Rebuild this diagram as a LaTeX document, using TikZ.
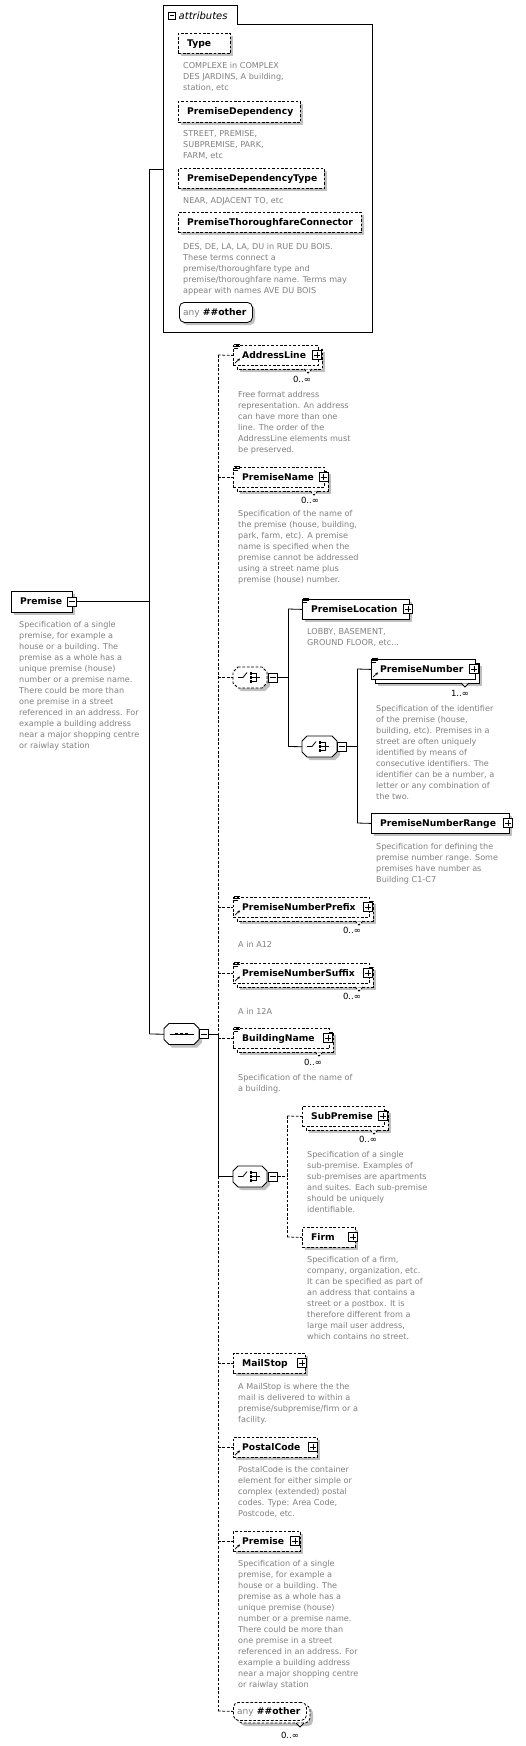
\documentclass[tikz,border=0pt]{standalone}
\usepackage{fontspec}
\setmainfont{DejaVu Sans}
\usetikzlibrary{arrows.meta}
\definecolor{descgray}{RGB}{128,128,128}
\definecolor{shadowgray}{RGB}{192,192,192}
\newcommand\XnameFont{\fontsize{9.2}{11}\selectfont\bfseries}
\newcommand\XdescFont{\fontsize{8.1}{11}\selectfont}
\newcommand\XmultFont{\fontsize{8.5}{10}\selectfont}
\tikzset{
 solidb/.style={draw=black, fill=white, line width=0.8pt},
 dashb/.style={draw=black, fill=white, line width=0.8pt, dash pattern=on 2.7pt off 1.7pt},
 nametext/.style={font=\XnameFont, inner sep=0pt, anchor=base west},
 desctext/.style={font=\XdescFont, text=descgray, inner sep=0pt, anchor=north west, align=left},
 multtext/.style={font=\XmultFont, inner sep=0pt, anchor=base},
 conn/.style={line width=0.8pt},
 dconn/.style={line width=0.8pt, dash pattern=on 2.7pt off 1.7pt},
 pmbox/.style={draw=black, fill=white, line width=0.7pt, minimum size=9pt, inner sep=0pt},
}
% shadow of a single box
\newcommand\XsdShadow[4]{\fill[shadowgray] ({#1+3},{#2+3}) rectangle ({#3+3},{#4+3});}
% back box of a repeated element, with its shadow and notch
\newcommand\XsdBack[5]{%
 \fill[shadowgray] ({#1+7},{#2+7}) rectangle ({#3+7},{#4+7});
 \draw[#5] ({#1+4},{#2+4}) rectangle ({#3+4},{#4+4});
 \fill[white] ({#3-14},{#4+4.4}) -- ({#3-10},{#4+8}) -- ({#3-6},{#4+4.4}) -- cycle;
 \draw[#5,fill=none] ({#3-14},{#4+4}) -- ({#3-10},{#4+8}) -- ({#3-6},{#4+4});}
% element box: name, x1, y1, x2, y2, style, text
\newcommand\XsdEl[7]{%
 \node[#6, inner sep=0pt, anchor=north west, minimum width={(#4-#2)*1pt}, minimum height={(#5-#3)*1pt}] (#1) at (#2,#3) {};
 \node[nametext] (#1-t) at ({#2+9},{(#3+#5)/2+3.4}) {#7};}
\newcommand\XsdPlus[3]{%
 \node[pmbox] (#1) at (#2,#3) {};
 \draw[line width=0.7pt] ({#2-3},#3) -- ({#2+3},#3) (#2,{#3-3}) -- (#2,{#3+3});}
\newcommand\XsdMinus[3]{%
 \node[pmbox] (#1) at (#2,#3) {};
 \draw[line width=0.7pt] ({#2-3},#3) -- ({#2+3},#3);}
\newcommand\XsdLines[2]{%
 \draw[line width=0.6pt] ({#1+1},{#2-1}) -- ({#1+7},{#2-1}) ({#1+1},{#2+1}) -- ({#1+7},{#2+1}) ({#1+1},{#2+3}) -- ({#1+5},{#2+3});}
\newcommand\XsdArrow[2]{%
 \draw[line width=0.7pt, -{Stealth[length=2.8pt,width=2.8pt]}] ({#1+2},{#2-2}) -- ({#1+7},{#2-6.5});}
% octagon (sequence / choice): name, x1, y1, x2, y2, style
\newcommand\XsdOct[6]{%
 \fill[shadowgray] ({#2+8},{#3+3}) -- ({#4-2},{#3+3}) -- ({#4+3},{#3+8}) -- ({#4+3},{#5-2}) -- ({#4-2},{#5+3}) -- ({#2+8},{#5+3}) -- ({#2+3},{#5-2}) -- ({#2+3},{#3+8}) -- cycle;
 \draw[#6] ({#2+5},#3) -- ({#4-5},#3) -- (#4,{#3+5}) -- (#4,{#5-5}) -- ({#4-5},#5) -- ({#2+5},#5) -- (#2,{#5-5}) -- (#2,{#3+5}) -- cycle;
 \node[inner sep=0pt, anchor=north west, minimum width={(#4-#2)*1pt}, minimum height={(#5-#3)*1pt}] (#1) at (#2,#3) {};}
\newcommand\XsdSeqIcon[2]{%
 \draw[line width=0.8pt] ({#1-12},#2) -- ({#1+12},#2);
 \foreach \dd in {-5,0,5} {\fill ({#1+\dd-1.4},{#2-1.4}) rectangle ({#1+\dd+1.4},{#2+1.4});}}
\newcommand\XsdChoiceIcon[2]{%
 \draw[line width=0.8pt] ({#1+5},#2) -- ({#1+10},#2) -- ({#1+14},{#2-5});
 \foreach \dd in {-4,0,4} {\fill ({#1+16.6},{#2+\dd-1.3}) rectangle ({#1+19.2},{#2+\dd+1.3});}
 \draw[line width=0.7pt] ({#1+19},{#2-4}) -- ({#1+23},{#2-4}) -- ({#1+23},{#2+4}) -- ({#1+19},{#2+4}) ({#1+19},#2) -- ({#1+27},#2);}
\newcommand\XsdDesc[4]{\node[desctext] (#1) at (#2,{#3-8}) {\rule{0pt}{8pt}#4};}

\begin{document}
\begin{tikzpicture}[x=1pt, y=-1pt]
\fill[white] (0,0) rectangle (526,1746);
\useasboundingbox (0,0) rectangle (526,1746);

% ---------------- attributes
\draw[solidb] (163,5) -- (237,5) -- (237,24) -- (372,24) -- (372,332) -- (163,332) -- cycle;
\node[inner sep=0pt, anchor=north west, minimum width=209pt, minimum height=327pt] (attrs) at (163,5) {};
\node[draw, line width=0.6pt, minimum size=7pt, inner sep=0pt] (attrm) at (172,15.5) {};
\draw[line width=0.6pt] (170,15.5) -- (174,15.5);
\node[font=\fontsize{10}{12}\selectfont\itshape, inner sep=0pt, anchor=base west] (attrt) at (178.5,19.5) {attributes};

\XsdShadow{178}{33}{230}{53}
\XsdEl{aType}{178}{33}{230}{53}{dashb}{Type}
\XsdDesc{dType}{183}{68}{COMPLEXE in COMPLEX\\DES JARDINS, A building,\\station, etc}

\XsdShadow{178}{101}{300}{122}
\XsdEl{aPD}{178}{101}{300}{122}{dashb}{PremiseDependency}
\XsdDesc{dPD}{183}{136}{STREET, PREMISE,\\SUBPREMISE, PARK,\\FARM, etc}

\XsdShadow{178}{168}{324}{188}
\XsdEl{aPDT}{178}{168}{324}{188}{dashb}{PremiseDependencyType}
\XsdDesc{dPDT}{183}{203}{NEAR, ADJACENT TO, etc}

\XsdShadow{178}{212}{361}{232}
\XsdEl{aPTC}{178}{212}{361}{232}{dashb}{PremiseThoroughfareConnector}
\XsdDesc{dPTC}{183}{249}{DES, DE, LA, LA, DU in RUE DU BOIS.\\These terms connect a\\premise/thoroughfare type and\\premise/thoroughfare name. Terms may\\appear with names AVE DU BOIS}

\fill[shadowgray, rounded corners=5pt] (182,305) rectangle (255,325);
\node[solidb, rounded corners=5pt, inner sep=0pt, anchor=north west, minimum width=73pt, minimum height=20pt] (aAny) at (179,302) {};
\node[inner sep=0pt, anchor=base west] (aAny-t) at (183,315.5) {{\fontsize{9}{11}\selectfont\color{descgray}any} {\XnameFont\#\#other}};

% ---------------- root element
\XsdShadow{11}{591}{72}{612}
\XsdEl{main}{11}{591}{72}{612}{solidb}{Premise}
\XsdMinus{mainm}{72}{601.5}
\XsdDesc{dMain}{19}{627}{Specification of a single\\premise, for example a\\house or a building. The\\premise as a whole has a\\unique premise (house)\\number or a premise name.\\There could be more than\\one premise in a street\\referenced in an address. For\\example a building address\\near a major shopping centre\\or raiwlay station}

% ---------------- sequence
\XsdOct{seq}{164}{1023.5}{199}{1044.5}{solidb}
\XsdSeqIcon{181.5}{1034}
\XsdMinus{seqm}{204}{1034}

% AddressLine
\XsdBack{233}{345}{318}{365}{dashb}
\XsdEl{addr}{233}{345}{318}{365}{dashb}{AddressLine}
\XsdLines{233}{345}\XsdArrow{233}{365}
\XsdPlus{addr-p}{317}{355}
\node[multtext] (addr-m) at (302,382) {0..∞};
\XsdDesc{dAddr}{238}{397}{Free format address\\representation. An address\\can have more than one\\line. The order of the\\AddressLine elements must\\be preserved.}

% PremiseName
\XsdBack{233}{467}{324}{487}{dashb}
\XsdEl{pname}{233}{467}{324}{487}{dashb}{PremiseName}
\XsdLines{233}{467}
\XsdPlus{pname-p}{323.5}{477}
\node[multtext] (pname-m) at (310,503) {0..∞};
\XsdDesc{dPname}{238}{516}{Specification of the name of\\the premise (house, building,\\park, farm, etc). A premise\\name is specified when the\\premise cannot be addressed\\using a street name plus\\premise (house) number.}

% choice 1
\XsdOct{ch1}{233}{667}{267}{688}{dashb}
\XsdChoiceIcon{233}{677.5}
\XsdMinus{ch1m}{273}{677.5}

\XsdShadow{302}{599}{409}{619}
\XsdEl{ploc}{302}{599}{409}{619}{solidb}{PremiseLocation}
\XsdLines{302}{599}
\XsdPlus{ploc-p}{408}{609}
\XsdDesc{dPloc}{307}{634}{LOBBY, BASEMENT,\\GROUND FLOOR, etc...}

% choice 2
\XsdOct{ch2}{302}{736}{337}{757}{solidb}
\XsdChoiceIcon{302}{746.5}
\XsdMinus{ch2m}{342}{746.5}

\XsdBack{371}{659}{475}{679}{solidb}
\XsdEl{pnum}{371}{659}{475}{679}{solidb}{PremiseNumber}
\XsdLines{371}{659}\XsdArrow{371}{679}
\XsdPlus{pnum-p}{474}{669}
\node[multtext] (pnum-m) at (460,696) {1..∞};
\XsdDesc{dPnum}{376}{711}{Specification of the identifier\\of the premise (house,\\building, etc). Premises in a\\street are often uniquely\\identified by means of\\consecutive identifiers. The\\identifier can be a number, a\\letter or any combination of\\the two.}

\XsdShadow{371}{813}{509}{833}
\XsdEl{prange}{371}{813}{509}{833}{solidb}{PremiseNumberRange}
\XsdPlus{prange-p}{508}{823}
\XsdDesc{dPrange}{376}{849}{Specification for defining the\\premise number range. Some\\premises have number as\\Building C1-C7}

% PremiseNumberPrefix
\XsdBack{233}{897}{369}{917}{dashb}
\XsdEl{ppre}{233}{897}{369}{917}{dashb}{PremiseNumberPrefix}
\XsdLines{233}{897}\XsdArrow{233}{917}
\XsdPlus{ppre-p}{368}{907}
\node[multtext] (ppre-m) at (352,933) {0..∞};
\XsdDesc{dPpre}{238}{947}{A in A12}

% PremiseNumberSuffix
\XsdBack{233}{963}{369}{983}{dashb}
\XsdEl{psuf}{233}{963}{369}{983}{dashb}{PremiseNumberSuffix}
\XsdLines{233}{963}\XsdArrow{233}{983}
\XsdPlus{psuf-p}{368}{973}
\node[multtext] (psuf-m) at (352,999) {0..∞};
\XsdDesc{dPsuf}{238}{1014}{A in 12A}

% BuildingName
\XsdBack{233}{1028}{329}{1048}{dashb}
\XsdEl{bname}{233}{1028}{329}{1048}{dashb}{BuildingName}
\XsdLines{233}{1028}
\XsdPlus{bname-p}{328}{1038}
\node[multtext] (bname-m) at (313,1065) {0..∞};
\XsdDesc{dBname}{238}{1080}{Specification of the name of\\a building.}

% choice 3
\XsdOct{ch3}{233}{1166}{267}{1187}{solidb}
\XsdChoiceIcon{233}{1176.5}
\XsdMinus{ch3m}{273}{1176.5}

\XsdBack{302}{1106}{384}{1126}{dashb}
\XsdEl{subp}{302}{1106}{384}{1126}{dashb}{SubPremise}
\XsdPlus{subp-p}{383}{1116}
\node[multtext] (subp-m) at (368,1142) {0..∞};
\XsdDesc{dSubp}{307}{1157}{Specification of a single\\sub-premise. Examples of\\sub-premises are apartments\\and suites. Each sub-premise\\should be uniquely\\identifiable.}

\XsdShadow{302}{1227}{355}{1247}
\XsdEl{firm}{302}{1227}{355}{1247}{dashb}{Firm}
\XsdPlus{firm-p}{353}{1237}
\XsdDesc{dFirm}{307}{1262}{Specification of a firm,\\company, organization, etc.\\It can be specified as part of\\an address that contains a\\street or a postbox. It is\\therefore different from a\\large mail user address,\\which contains no street.}

% MailStop
\XsdShadow{233}{1353}{305}{1373}
\XsdEl{mstop}{233}{1353}{305}{1373}{dashb}{MailStop}
\XsdPlus{mstop-p}{302}{1363}
\XsdDesc{dMstop}{238}{1389}{A MailStop is where the the\\mail is delivered to within a\\premise/subpremise/firm or a\\facility.}

% PostalCode
\XsdShadow{233}{1437}{317}{1457}
\XsdEl{pcode}{233}{1437}{317}{1457}{dashb}{PostalCode}
\XsdArrow{233}{1457}
\XsdPlus{pcode-p}{313}{1447}
\XsdDesc{dPcode}{238}{1472}{PostalCode is the container\\element for either simple or\\complex (extended) postal\\codes. Type: Area Code,\\Postcode, etc.}

% Premise (reference)
\XsdShadow{233}{1531}{300}{1551}
\XsdEl{pref}{233}{1531}{300}{1551}{dashb}{Premise}
\XsdArrow{233}{1551}
\XsdPlus{pref-p}{295}{1541}
\XsdDesc{dPref}{238}{1566}{Specification of a single\\premise, for example a\\house or a building. The\\premise as a whole has a\\unique premise (house)\\number or a premise name.\\There could be more than\\one premise in a street\\referenced in an address. For\\example a building address\\near a major shopping centre\\or raiwlay station}

% any ##other (element wildcard)
\fill[shadowgray, rounded corners=5pt] (240,1708) rectangle (313,1726);
\draw[dashb, rounded corners=5pt] (237,1705) rectangle (310,1723);
\fill[white] (296,1723.4) -- (300,1727) -- (304,1723.4) -- cycle;
\draw[line width=0.8pt] (296,1723) -- (300,1727) -- (304,1723);
\node[dashb, rounded corners=5pt, inner sep=0pt, anchor=north west, minimum width=73pt, minimum height=18pt] (anyo) at (233,1702) {};
\node[inner sep=0pt, anchor=base west] (anyo-t) at (237,1714.5) {{\fontsize{9}{11}\selectfont\color{descgray}any} {\XnameFont\#\#other}};
\node[multtext] (anyo-m) at (290,1738) {0..∞};

% ---------------- connectors
\coordinate (sp1t) at (149.5,169);
\coordinate (sp1b) at (149.5,1034);
\draw[conn] (sp1t) -- (sp1b);
\draw[conn] (sp1t) -- (attrs.west |- sp1t);
\draw[conn] (mainm.east) -- (mainm.east -| sp1t);
\draw[conn] (sp1b) -- (seq.west);

\coordinate (sp2a) at (218,355);
\coordinate (sp2b) at (218,1034);
\coordinate (sp2c) at (218,1176.5);
\coordinate (sp2d) at (218,1711);
\draw[conn] (seqm.east) -- (sp2b);
\draw[dconn] (sp2a) -- (sp2b);
\draw[conn] (sp2b) -- (sp2c);
\draw[dconn] (sp2c) -- (sp2d);
\draw[dconn] (sp2a) -- (addr.west);
\draw[dconn] (pname.west -| sp2a) -- (pname.west);
\draw[dconn] (ch1.west -| sp2a) -- (ch1.west);
\draw[dconn] (ppre.west -| sp2a) -- (ppre.west);
\draw[dconn] (psuf.west -| sp2a) -- (psuf.west);
\draw[dconn] (bname.west -| sp2a) -- (bname.west);
\draw[conn] (ch3.west -| sp2a) -- (ch3.west);
\draw[dconn] (mstop.west -| sp2a) -- (mstop.west);
\draw[dconn] (pcode.west -| sp2a) -- (pcode.west);
\draw[dconn] (pref.west -| sp2a) -- (pref.west);
\draw[dconn] (sp2d) -- (anyo.west);

\coordinate (sp3t) at (288,609);
\coordinate (sp3b) at (288,746.5);
\draw[conn] (ch1m.east) -- (ch1m.east -| sp3t);
\draw[conn] (sp3t) -- (sp3b);
\draw[conn] (sp3t) -- (ploc.west);
\draw[conn] (sp3b) -- (ch2.west);

\coordinate (sp4t) at (357,669);
\coordinate (sp4b) at (357,823);
\draw[conn] (ch2m.east) -- (ch2m.east -| sp4t);
\draw[conn] (sp4t) -- (sp4b);
\draw[conn] (sp4t) -- (pnum.west);
\draw[conn] (sp4b) -- (prange.west);

\coordinate (sp5t) at (287,1116);
\coordinate (sp5b) at (287,1237);
\draw[dconn] (ch3m.east) -- (ch3m.east -| sp5t);
\draw[dconn] (sp5t) -- (sp5b);
\draw[dconn] (sp5t) -- (subp.west);
\draw[dconn] (sp5b) -- (firm.west);
\end{tikzpicture}
\end{document}
